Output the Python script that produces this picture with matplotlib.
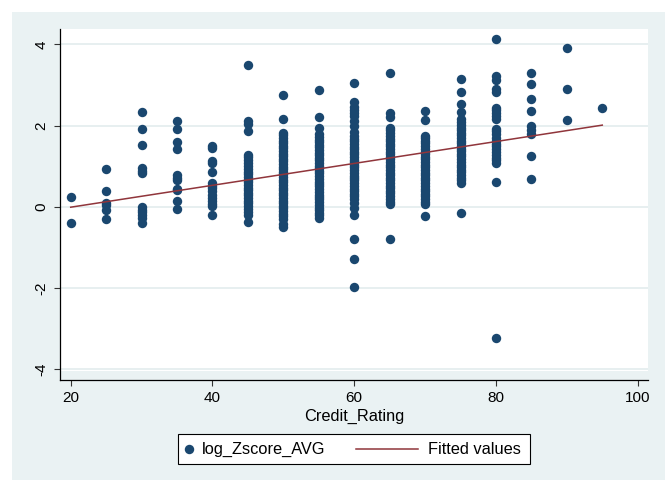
import numpy as np
import matplotlib
matplotlib.use('Agg')
import matplotlib.pyplot as plt
from matplotlib.patches import Rectangle
from matplotlib.lines import Line2D

plt.rcParams['font.family'] = ['Liberation Sans', 'DejaVu Sans']
plt.rcParams['axes.unicode_minus'] = False

# log_Zscore_AVG observations, grouped by Credit_Rating
z_20 = [0.25, -0.39]
z_25 = [0.92, 0.40, 0.10, 0.05, -0.09, -0.29]
z_30 = [2.33, 1.92, 1.52, 0.96, 0.88, 0.84, 0.0, -0.07, -0.12, -0.2, -0.27, -0.41]
z_35 = [2.10, 1.92, 1.59, 1.43, 0.79, 0.72, 0.67, 0.44, 0.41, 0.14, -0.05]
z_40 = [1.49, 1.45, 1.12, 1.08, 0.86, 0.59, 0.52, 0.47, 0.38, 0.3, 0.22, 0.15,
        0.08, 0.02, -0.21]
z_45 = [3.49, 2.12, 2.05, 1.87, 1.28, 1.22, 1.15, 1.08, 1.0, 0.93, 0.86, 0.8,
        0.73, 0.66, 0.6, 0.54, 0.47, 0.41, 0.35, 0.28, 0.22, 0.15, 0.09, 0.02,
        -0.05, -0.12, -0.19, -0.38]
z_50 = [2.76, 2.16, 1.82, 1.76, 1.7, 1.63, 1.57, 1.5, 1.44, 1.37, 1.31, 1.25,
        1.18, 1.12, 1.05, 0.99, 0.92, 0.86, 0.8, 0.73, 0.67, 0.6, 0.54, 0.47,
        0.41, 0.35, 0.28, 0.22, 0.15, 0.09, 0.03, -0.04, -0.1, -0.17, -0.23,
        -0.31, -0.42, -0.5]
z_55 = [2.87, 2.2, 1.93, 1.78, 1.72, 1.65, 1.59, 1.52, 1.46, 1.39, 1.33, 1.27,
        1.2, 1.14, 1.07, 1.01, 0.95, 0.88, 0.82, 0.75, 0.69, 0.62, 0.56, 0.5,
        0.43, 0.37, 0.3, 0.24, 0.18, 0.11, 0.05, -0.02, -0.08, -0.15, -0.21,
        -0.28]
z_60 = [3.05, 2.58, 2.45, 2.39, 2.3, 2.23, 2.1, 1.98, 1.85, 1.74, 1.68, 1.61,
        1.55, 1.48, 1.42, 1.35, 1.29, 1.22, 1.16, 1.1, 1.03, 0.97, 0.9, 0.84,
        0.77, 0.71, 0.65, 0.58, 0.52, 0.45, 0.39, 0.32, 0.26, 0.18, 0.1, -0.03,
        -0.19, -0.8, -1.28, -1.97]
z_65 = [3.29, 2.3, 2.21, 1.94, 1.88, 1.81, 1.75, 1.68, 1.62, 1.55, 1.49, 1.42,
        1.36, 1.29, 1.23, 1.17, 1.1, 1.04, 0.97, 0.91, 0.84, 0.78, 0.71, 0.65,
        0.58, 0.52, 0.46, 0.39, 0.33, 0.26, 0.2, 0.13, 0.06, -0.8]
z_70 = [2.35, 2.13, 1.75, 1.69, 1.62, 1.56, 1.49, 1.43, 1.36, 1.3, 1.23, 1.17,
        1.1, 1.04, 0.97, 0.91, 0.84, 0.78, 0.71, 0.65, 0.58, 0.52, 0.45, 0.39,
        0.32, 0.26, 0.19, 0.12, 0.06, -0.23]
z_75 = [3.15, 2.82, 2.54, 2.33, 2.15, 2.08, 2.02, 1.95, 1.89, 1.82, 1.76, 1.69,
        1.63, 1.56, 1.5, 1.43, 1.37, 1.3, 1.24, 1.17, 1.11, 1.04, 0.98, 0.91,
        0.85, 0.78, 0.72, 0.65, 0.59, -0.15]
z_80 = [4.13, 3.23, 3.13, 2.9, 2.82, 2.44, 2.38, 2.31, 2.23, 2.16, 1.92, 1.86,
        1.8, 1.7, 1.62, 1.55, 1.49, 1.42, 1.35, 1.28, 1.21, 1.14, 1.08, 0.6,
        -3.24]
z_85 = [3.3, 3.03, 2.66, 2.37, 1.98, 1.9, 1.78, 1.24, 0.69]
z_90 = [3.9, 2.9, 2.14]
z_95 = [2.44]

ratings = [20, 25, 30, 35, 40, 45, 50, 55, 60, 65, 70, 75, 80, 85, 90, 95]
groups = [z_20, z_25, z_30, z_35, z_40, z_45, z_50, z_55, z_60, z_65, z_70,
          z_75, z_80, z_85, z_90, z_95]

# linear fit endpoints (Fitted values)
fit_x = [20, 95]
fit_y = [-0.01, 2.01]

x_ticks = [20, 40, 60, 80, 100]
y_ticks = [-4, -2, 0, 2, 4]

navy = '#1a476f'
maroon = '#90353b'
bluish = '#eaf2f3'
grid_col = '#e3ecee'

credit = np.concatenate([[r] * len(g) for r, g in zip(ratings, groups)])
log_z = np.concatenate(groups)

W, H = 665, 480
fig = plt.figure(figsize=(W / 100, H / 100), dpi=100)


def fx(px):
    return px / W


def fy(py):
    return 1 - py / H


# graph region
fig.patches.append(Rectangle((fx(12), 0), 1, 1 - 12 / H, transform=fig.transFigure,
                             facecolor=bluish, edgecolor='none', zorder=-5))

ax = fig.add_axes([fx(60), fy(380), fx(648) - fx(60), fy(29) - fy(380)])
ax.set_zorder(1)
ax.set_facecolor('none')
# plot region sits above the x axis line
gap = 9 / 351
ax.add_patch(Rectangle((0, gap), 1, 1 - gap, transform=ax.transAxes,
                       facecolor='white', edgecolor='none', zorder=0))

ax.set_xlim(18.49, 101.45)
ax.set_ylim(-4.263, 4.376)
ax.set_xticks(x_ticks)
ax.set_yticks(y_ticks)
ax.grid(axis='y', color=grid_col, linewidth=1.2, zorder=1)
ax.set_axisbelow(True)

ax.scatter(credit, log_z, s=46, color=navy, linewidths=0, zorder=3)
ax.plot(fit_x, fit_y, color=maroon, linewidth=1.1, zorder=4)

for side in ['top', 'right']:
    ax.spines[side].set_visible(False)
for side in ['left', 'bottom']:
    ax.spines[side].set_linewidth(0.9)
    ax.spines[side].set_color('black')

ax.tick_params(axis='both', length=4.5, width=0.8, color='#333333', labelsize=11)
ax.tick_params(axis='x', pad=3.5)
ax.tick_params(axis='y', pad=4)
for lab in ax.get_yticklabels():
    lab.set_rotation(90)
    lab.set_verticalalignment('center')

ax.set_xlabel('Credit_Rating', fontsize=11.8, labelpad=2.5)

# legend box
fig.patches.append(Rectangle((fx(178), fy(464)), fx(530) - fx(178), fy(434) - fy(464),
                             transform=fig.transFigure, facecolor='white',
                             edgecolor='black', linewidth=0.8, zorder=2))
fig.add_artist(Line2D([fx(189)], [fy(449)], marker='o', markersize=6.8,
                      markeredgewidth=0, color=navy, transform=fig.transFigure,
                      zorder=3))
fig.text(fx(202), fy(449), 'log_Zscore_AVG', fontsize=11.8, va='center', ha='left',
         zorder=3)
fig.add_artist(Line2D([fx(356), fx(418)], [fy(449), fy(449)], color=maroon,
                      linewidth=1.1, transform=fig.transFigure, zorder=3))
fig.text(fx(428), fy(449), 'Fitted values', fontsize=11.8, va='center', ha='left',
         zorder=3)

fig.savefig('out.png', dpi=100)
